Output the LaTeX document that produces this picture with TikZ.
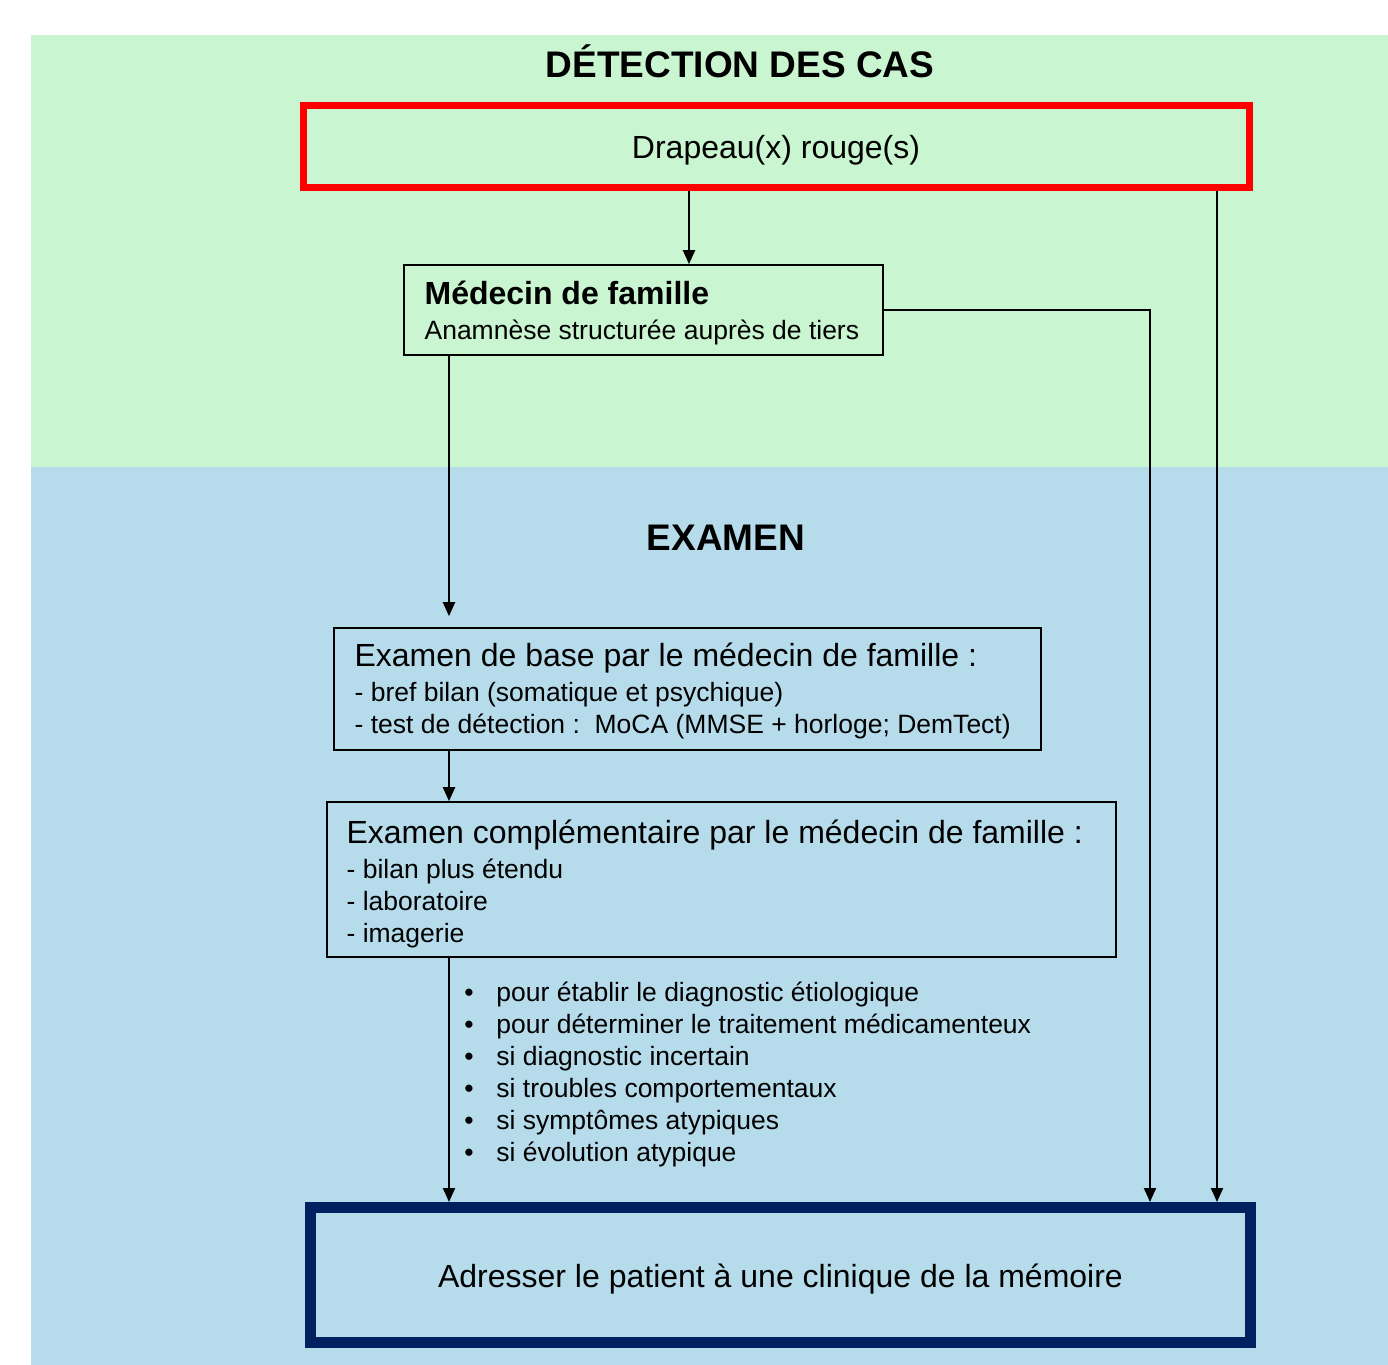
\documentclass[tikz,border=0pt]{standalone}
\usepackage{fontspec}
\setmainfont{Liberation Sans}
\usepackage{xcolor}
\usepackage{tikz}
\usetikzlibrary{arrows.meta, positioning, calc}
\definecolor{zonegreen}{RGB}{201,245,209}
\definecolor{zoneblue}{RGB}{182,220,236}
\definecolor{navy}{RGB}{0,32,96}
\newcommand{\bigtxt}{\fontsize{16}{19}\selectfont}
\newcommand{\smalltxt}{\fontsize{13.25}{16}\selectfont}
\newcommand{\titletxt}{\fontsize{18.5}{22}\selectfont\bfseries}
\tikzstyle{stage}  = [rectangle, draw, line width=0.8pt]
\tikzstyle{inside} = [align=left, inner sep=0pt, font=\smalltxt]
\tikzstyle{arrow}  = [-{Triangle[length=7pt,width=6pt]}, line width=1pt]

\begin{document}
\begin{tikzpicture}[x=0.5pt, y=-0.5pt]
  \useasboundingbox (0,0) rectangle (1388,1365);
  % Zones
  \fill[zonegreen] (31,35) rectangle (1388,467);
  \fill[zoneblue]  (31,467) rectangle (1388,1365);

  % Titles
  \node[font=\titletxt] (detect) at (740,61)  {DÉTECTION DES CAS};
  \node[font=\titletxt] (exam)   at (726,538) {EXAMEN};

  % Boxes
  \node[draw=red, line width=3.5pt, minimum width=473pt, minimum height=41pt, font=\bigtxt,
        text height=12.3pt, text depth=0pt]
    (flag) at (776,146) {Drapeau(x) rouge(s)};
  \node[stage, minimum width=239.5pt, minimum height=45pt] (gp) at (643.5,310) {};
  \node[inside, right=10.5pt of gp.west, yshift=-1.5pt] (gptext)
    {{\bigtxt\bfseries Médecin de famille}\\[1.5pt] Anamnèse structurée auprès de tiers};

  \node[stage, minimum width=353.5pt, minimum height=61pt] (base) at (687.5,689) {};
  \node[inside, right=10.5pt of base.west, yshift=-1pt] (basetext)
    {{\bigtxt Examen de base par le médecin de famille :}\\[1.5pt]
     - bref bilan (somatique et psychique)\\
     - test de détection :\ \ MoCA (MMSE + horloge; DemTect)};

  \node[stage, minimum width=394.5pt, minimum height=77.5pt] (compl) at (721.5,879.5) {};
  \node[inside, right=10pt of compl.west, yshift=-2pt] (compltext)
    {{\bigtxt Examen complémentaire par le médecin de famille :}\\[1.5pt]
     - bilan plus étendu\\
     - laboratoire\\
     - imagerie};

  \node[inside, anchor=west] (why) at (464,1074)
    {\makebox[16pt][l]{\textbullet}pour établir le diagnostic étiologique\\
     \makebox[16pt][l]{\textbullet}pour déterminer le traitement médicamenteux\\
     \makebox[16pt][l]{\textbullet}si diagnostic incertain\\
     \makebox[16pt][l]{\textbullet}si troubles comportementaux\\
     \makebox[16pt][l]{\textbullet}si symptômes atypiques\\
     \makebox[16pt][l]{\textbullet}si évolution atypique};

  \node[draw=navy, line width=5.5pt, minimum width=470pt, minimum height=67.5pt, font=\bigtxt,
        text height=12.3pt, text depth=0pt]
    (clinic) at (780.5,1275) {Adresser le patient à une clinique de la mémoire};

  % Spines
  \coordinate (spineT) at (689,0);
  \coordinate (spineL) at (449,0);
  \coordinate (spineM) at (1150,0);
  \coordinate (spineR) at (1217,0);

  % Arrows
  \draw[arrow] (flag.south -| spineT) -- (gp.north -| spineT);
  \draw[arrow, shorten >=5.5pt] (gp.south -| spineL) -- (base.north -| spineL);
  \draw[arrow] (base.south -| spineL) -- (compl.north -| spineL);
  \draw[arrow] (compl.south -| spineL) -- (clinic.north -| spineL);
  \draw[arrow] (gp.east) -| (clinic.north -| spineM);
  \draw[arrow] (flag.south -| spineR) -- (clinic.north -| spineR);
\end{tikzpicture}
\end{document}
